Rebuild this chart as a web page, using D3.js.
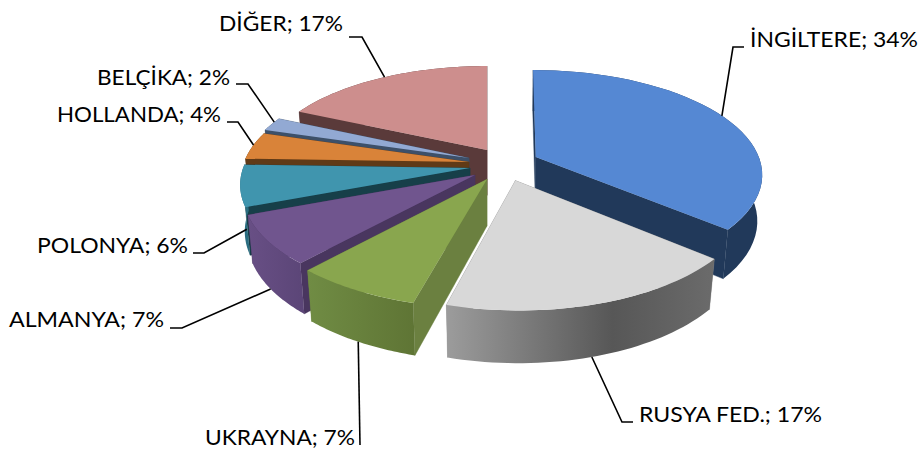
<!DOCTYPE html>
<html><head><meta charset="utf-8">
<script src="https://cdn.jsdelivr.net/npm/d3@7/dist/d3.min.js"></script>
<style>html,body{margin:0;padding:0;background:#fff}svg{display:block}</style>
</head><body><div id="c"></div>
<script>
const categories=["İNGİLTERE","RUSYA FED.","UKRAYNA","ALMANYA","POLONYA","HOLLANDA","BELÇİKA","DİĞER"];
const values=[34,17,7,7,6,4,2,17];
const topColors=["#5588d3","#d8d8d8","#89a64e","#70558e","#4095ae","#d98339","#92a9d3","#cd8e8d"];
const wallStops=[["#21395a","#21395a"],["#9c9c9c","#575757","#6b6b6b"],["#708c44","#5f7535"],["#684f85","#5c4678"],["#2a6d80","#2a6d80"],["#603a17","#603a17"],["#3d5069","#3d5069"],["#5a3a3a","#5a3a3a"]];
const faceColors=["#21395a","#8a8a8a","#6b8040","#49365f","#173f49","#603a17","#3d5069","#5a3a3a"];
const vanishX=[516,498,487,475,470,469,469,487];
const explodeX=[20,17,0,0,0,0,0,0];
const explodeY=[-18.7,33,30,21,6,-7.5,-16.6,-35];
const radiiX=[226,225,230,226,226,226,226,226];
const radiiY=[230,230,230,226,226,226,226,226];
const paintOrder=[7,6,5,4,3,2,0,1];
const labelX=[750,639,205,9,37,57,97,219];
const labelY=[47,422,445,327,253,122,85,31];
const labelW=[168,183,150,155,151,164,133,124];
const leaderAngle=[64,164,208.7,236,250,280,292.5,328.3];
const leaderFrac=[0,1,1,1,0.5,0,0,0];
const leaderElbow=[[733,47],[622,422],[360,445],[182,328],[204,253],[238,122],[248,84],[362,37]];
const leaderEnd=[[744,47],[633,422],[360,445],[170,328],[193,253],[227,122],[236,84],[349,37]];

const W=924,H=452,cy=165.4,k=0.45,p=0.0007,depth=47,dw=0.02;
const svg=d3.select("#c").append("svg").attr("width",W).attr("height",H);
const defs=svg.append("defs");
const arcs=d3.pie().sort(null).value(d=>d)(values);
const proj=(i,X,Y,bottom)=>{const w=1-p*Y;return bottom?[vanishX[i]+X/(w+dw),cy+(k*Y+depth)/(w+dw)]:[vanishX[i]+X/w,cy+k*Y/w];};
const rim=(i,a,b)=>proj(i,explodeX[i]+radiiX[i]*Math.sin(a),explodeY[i]-radiiY[i]*Math.cos(a),b);
const apex=(i,b)=>proj(i,explodeX[i],explodeY[i],b);
const line=d3.line();
const samples=(a0,a1)=>d3.range(0,41).map(t=>a0+(a1-a0)*t/40);

function drawSlice(i){
  const a0=arcs[i].startAngle,a1=arcs[i].endAngle,as=samples(a0,a1);
  const g=svg.append("g");
  const topPts=as.map(a=>rim(i,a,false)),botPts=as.map(a=>rim(i,a,true));
  const xs=topPts.map(d=>d[0]);
  const id="w"+i;
  const grad=defs.append("linearGradient").attr("id",id).attr("gradientUnits","userSpaceOnUse")
    .attr("x1",d3.min(xs)).attr("x2",d3.max(xs)).attr("y1",0).attr("y2",0);
  const st=wallStops[i];
  st.forEach((c,j)=>grad.append("stop").attr("offset",st.length===3&&j===1?0.62:j/(st.length-1)).attr("stop-color",c));
  [a1,a0].forEach(a=>{
    g.append("path").attr("d",line([apex(i,false),rim(i,a,false),rim(i,a,true),apex(i,true)])+"Z")
     .attr("fill",faceColors[i]).attr("stroke",faceColors[i]).attr("stroke-width",0.4);
  });
  g.append("path").attr("d",line(topPts.concat(botPts.slice().reverse()))+"Z").attr("fill",`url(#${id})`);
  g.append("path").attr("d",line([apex(i,false)].concat(topPts))+"Z").attr("fill",topColors[i]);
}
paintOrder.forEach(drawSlice);

categories.forEach((c,i)=>{
  const a=leaderAngle[i]*Math.PI/180,f=leaderFrac[i];
  const t=rim(i,a,false),b=rim(i,a,true);
  const start=[t[0]+(b[0]-t[0])*f,t[1]+(b[1]-t[1])*f];
  svg.append("path").attr("d",line([start,leaderElbow[i],leaderEnd[i]])).attr("fill","none").attr("stroke","#000").attr("stroke-width",1.6);
  svg.append("text").attr("x",labelX[i]).attr("y",labelY[i]).attr("font-family","Lato, 'Open Sans', sans-serif").attr("font-size",21)
    .attr("textLength",labelW[i]).attr("lengthAdjust","spacingAndGlyphs").attr("fill","#000").text(`${c}; ${values[i]}%`);
});
</script></body></html>
